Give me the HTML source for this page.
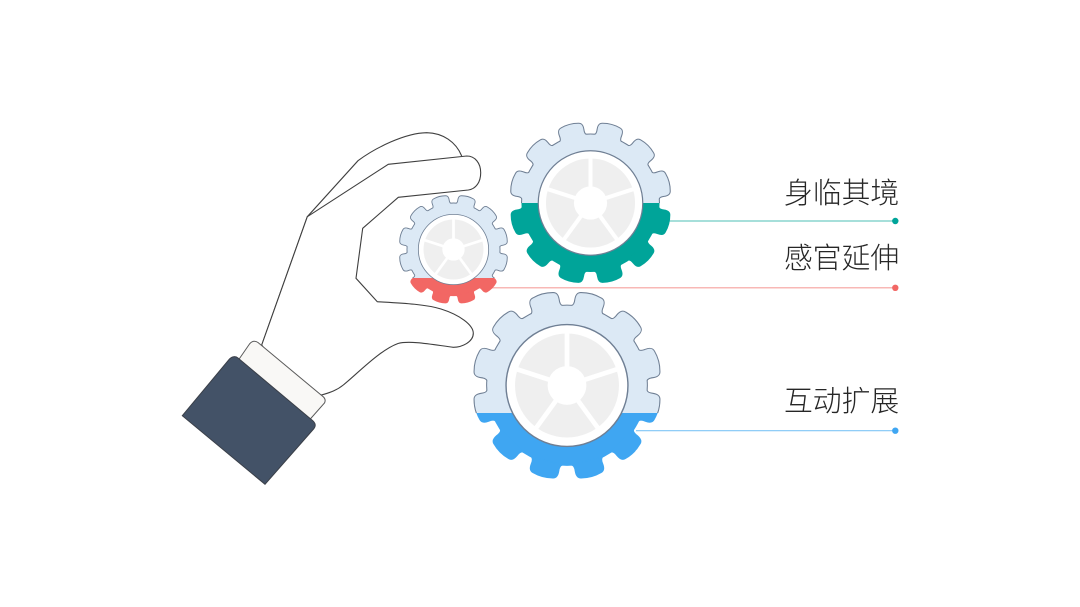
<!DOCTYPE html>
<html><head><meta charset="utf-8"><style>
html,body{margin:0;padding:0;background:#fff;width:1080px;height:607px;overflow:hidden}
svg{display:block;filter:blur(.35px)}
text{font-family:"Liberation Sans","Noto Sans CJK SC",sans-serif;font-size:28.800px;font-weight:300;fill:#262626}
</style></head><body>
<svg width="1080" height="607" viewBox="0 0 1080 607" xmlns="http://www.w3.org/2000/svg">
<defs>
<path id="t" d="M-17,-82.500C-15,-83.500 -14.500,-86.500 -15,-90C-15.500,-95 -14.500,-97.500 -11,-98.300Q0,-101.300 11,-98.300C14.500,-97.500 15.500,-95 15,-90C14.500,-86.500 15,-83.500 17,-82.500Z"/>
<g id="g">
<circle r="84.500"/>
<use href="#t" transform="rotate(15)"/><use href="#t" transform="rotate(45)"/><use href="#t" transform="rotate(75)"/><use href="#t" transform="rotate(105)"/><use href="#t" transform="rotate(135)"/><use href="#t" transform="rotate(165)"/><use href="#t" transform="rotate(195)"/><use href="#t" transform="rotate(225)"/><use href="#t" transform="rotate(255)"/><use href="#t" transform="rotate(285)"/><use href="#t" transform="rotate(315)"/><use href="#t" transform="rotate(345)"/>
</g>
<g id="w">
<circle r="64.500" fill="#fff" stroke="#6f7f94" stroke-width="1.500"/>
<circle r="55" fill="#efefef"/>
<g stroke="#fff" stroke-width="5">
<line x2="0" y2="-60"/><line x2="57" y2="-18.500"/><line x2="35.300" y2="48.500"/><line x2="-35.300" y2="48.500"/><line x2="-57" y2="-18.500"/>
</g>
<circle r="20.500" fill="#fff"/>
</g>
<clipPath id="a1"><rect x="480" y="100" width="220" height="103"/></clipPath>
<clipPath id="a2"><rect x="480" y="203" width="220" height="100"/></clipPath>
<clipPath id="b1"><rect x="380" y="180" width="140" height="98"/></clipPath>
<clipPath id="b2"><rect x="380" y="278" width="140" height="40"/></clipPath>
<clipPath id="c1"><rect x="450" y="280" width="230" height="133"/></clipPath>
<clipPath id="c2"><rect x="450" y="413" width="230" height="80"/></clipPath>
</defs>
<rect width="1080" height="607" fill="#fff"/>

<!-- hand -->
<path d="M261.700,345L307.300,216.700L358,160.700C375,148 405,133 426.700,132.700C443,133 456,142 461.700,156" fill="#fff" stroke="#3f3f3f" stroke-width="1.100"/>
<path d="M261.700,345L307.300,216.700L388.300,164.300L466.700,156C475,156 480.700,163 480.700,172.700C480.700,182 476,189 468.300,190L398.300,197.300L362.700,228.300L356,278.300L377.300,301.700C400,303 425,304 441,309C460,315 473.300,325 473.300,333.300C473.300,342 462,347.300 453.300,347.300C435,345 410,340 398,343.500C380,350 358,373 343.300,385C336,391 328,393 321.700,395L290,385Z" fill="#fff" stroke="#3f3f3f" stroke-width="1.100"/>
<path d="M249.500,344C252,341 255,340.500 258,342.500L323.500,397C325.500,399 325.500,401 324.500,403L305,425L235,365Z" fill="#f9f8f6" stroke="#5a5a5a" stroke-width="1"/>
<path d="M229.500,359C232,356.500 235.500,355.800 238,358L312.500,420.500C315.500,423 316,426 314,428.500L265,484.300L182.300,415.700Z" fill="#435267" stroke="#3a3f48" stroke-width="1"/>

<!-- leaders -->
<line x1="668" y1="221" x2="895" y2="221" stroke="#4cbfb6" stroke-width="1.100"/>
<circle cx="895.300" cy="221" r="3.200" fill="#00a499"/>
<line x1="490" y1="287.800" x2="895" y2="287.800" stroke="#f6a09e" stroke-width="1.100"/>
<circle cx="895.300" cy="287.800" r="3.200" fill="#f26764"/>
<line x1="636" y1="430.700" x2="895" y2="430.700" stroke="#80c6f6" stroke-width="1.100"/>
<circle cx="895.300" cy="430.700" r="3.200" fill="#3fa6f2"/>

<!-- top gear -->
<g clip-path="url(#a1)"><use href="#g" transform="translate(590.500,203) scale(.81)" fill="#6f7f94" stroke="#6f7f94" stroke-width="2.600"/></g>
<use href="#g" transform="translate(590.500,203) scale(.81)" fill="#dce9f5"/>
<g clip-path="url(#a2)"><use href="#g" transform="translate(590.500,203) scale(.81)" fill="#00a499" stroke="#00a499" stroke-width="1.500"/></g>
<use href="#w" transform="translate(590.500,203) scale(.81)"/>

<!-- small gear -->
<g clip-path="url(#b1)"><use href="#g" transform="translate(453.500,249.500) scale(.545)" fill="#6f7f94" stroke="#6f7f94" stroke-width="3.400"/></g>
<use href="#g" transform="translate(453.500,249.500) scale(.545)" fill="#dce9f5"/>
<g clip-path="url(#b2)"><use href="#g" transform="translate(453.500,249.500) scale(.545)" fill="#f26764" stroke="#f26764" stroke-width="2"/></g>
<use href="#w" transform="translate(453.500,249.500) scale(.545)"/>

<!-- large gear -->
<g clip-path="url(#c1)"><use href="#g" transform="translate(567,385.500) scale(.945)" fill="#6f7f94" stroke="#6f7f94" stroke-width="2.200"/></g>
<use href="#g" transform="translate(567,385.500) scale(.945)" fill="#dce9f5"/>
<g clip-path="url(#c2)"><use href="#g" transform="translate(567,385.500) scale(.945)" fill="#3fa6f2" stroke="#3fa6f2" stroke-width="1.200"/></g>
<use href="#w" transform="translate(567,385.500) scale(.945)"/>

<text x="784" y="203">身临其境</text>
<text x="784" y="268">感官延伸</text>
<text x="784" y="411">互动扩展</text>
</svg>
</body></html>
